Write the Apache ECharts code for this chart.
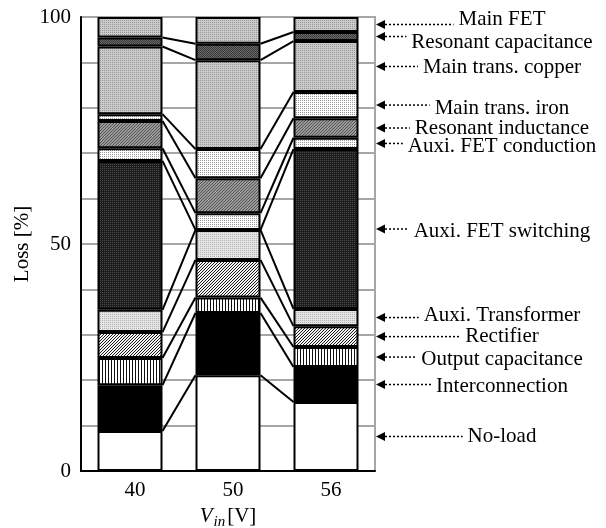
<!DOCTYPE html>
<html><head><meta charset="utf-8">
<script src="https://cdn.jsdelivr.net/npm/echarts@6/dist/echarts.min.js"></script>
<style>html,body{margin:0;padding:0;background:#fff}#c{width:606px;height:528px}</style>
</head><body><div id="c"></div>
<script>
// ---- data ----
const categories = ['40', '50', '56'];
const seriesNames = ['No-load', 'Interconnection', 'Output capacitance', 'Rectifier', 'Auxi. Transformer',
  'Auxi. FET switching', 'Auxi. FET conduction', 'Resonant inductance', 'Main trans. iron',
  'Main trans. copper', 'Resonant capacitance', 'Main FET'];
const noLoad = [8.8, 21.1, 15.2];
const interconnection = [10.1, 13.7, 7.7];
const outputCapacitance = [6.0, 3.4, 4.4];
const rectifier = [5.7, 8.3, 4.6];
const auxiTransformer = [4.9, 6.6, 3.8];
const auxiFetSwitching = [32.8, 0, 35.2];
const auxiFetConduction = [2.8, 3.7, 2.5];
const resonantInductance = [6.0, 7.7, 4.3];
const mainTransIron = [1.5, 6.4, 5.8];
const mainTransCopper = [14.9, 19.6, 11.2];
const resonantCapacitance = [2.0, 3.6, 2.0];
const mainFet = [4.5, 5.9, 3.3];
const yTickLabels = [0, 50, 100];

const valueLists = [noLoad, interconnection, outputCapacitance, rectifier, auxiTransformer,
  auxiFetSwitching, auxiFetConduction, resonantInductance, mainTransIron, mainTransCopper,
  resonantCapacitance, mainFet];

// ---- styling ----
const FONT = '"Liberation Serif", "Times New Roman", serif';
const labelShift = [0, 2, 2, 0, -2, 2, 3, 0, 3, 1, 6, -5];
const BAR_W = 65;

function tile(w, h, bg, fg, cells) {
  const c = document.createElement('canvas'); c.width = w; c.height = h;
  const g = c.getContext('2d'); g.fillStyle = bg; g.fillRect(0, 0, w, h);
  g.fillStyle = fg; cells.forEach(([x, y]) => g.fillRect(x, y, 1, 1));
  return { image: c, repeat: 'repeat' };
}
function diag(size, bg, fg, k) {
  const cells = [];
  for (let x = 0; x < size; x++) for (let y = 0; y < size; y++) if ((x + y) % size === k) cells.push([x, y]);
  return tile(size, size, bg, fg, cells);
}
const fills = [
  '#ffffff',
  '#000000',
  tile(3, 1, '#ffffff', '#111111', [[0, 0]]),
  diag(3, '#f4f4f4', '#1a1a1a', 2),
  tile(2, 2, '#e4e4e4', '#b4b4b4', [[0, 0]]),
  tile(2, 2, '#1c1c1c', '#4a4a4a', [[0, 0]]),
  tile(2, 2, '#ffffff', '#999999', [[0, 0]]),
  diag(3, '#9a9a9a', '#555555', 2),
  tile(2, 2, '#ffffff', '#999999', [[0, 0]]),
  tile(2, 2, '#cbcbcb', '#979797', [[0, 0]]),
  tile(2, 2, '#6a6a6a', '#383838', [[0, 0], [1, 1]]),
  tile(2, 2, '#cbcbcb', '#979797', [[0, 0]])
];

const mctx = document.createElement('canvas').getContext('2d');
mctx.font = '21px ' + FONT;

// cumulative tops
const cum = categories.map((_, c) => { let s = 0; return valueLists.map(v => (s += v[c])); });

const barSeries = valueLists.map((vals, i) => ({
  name: seriesNames[i], type: 'bar', stack: 'total', barWidth: BAR_W, data: vals,
  itemStyle: { color: fills[i], borderColor: '#000', borderWidth: 2 },
  emphasis: { disabled: true }, z: 3
}));

const connData = [];
for (let g = 0; g < categories.length - 1; g++)
  for (let k = 0; k < valueLists.length - 1; k++) connData.push([g, cum[g][k], cum[g + 1][k]]);

const last = categories.length - 1;
const annData = valueLists.map((v, k) => [last, cum[last][k] - v[last] / 2, k]);

const chart = echarts.init(document.getElementById('c'), null, { renderer: 'canvas' });
chart.setOption({
  animation: false,
  grid: { left: 81, right: 231, top: 17, bottom: 57, show: true, borderColor: '#a6a6a6', borderWidth: 2,
    containLabel: false, outerBoundsMode: 'none' },
  xAxis: {
    type: 'category', data: categories,
    axisLine: { lineStyle: { color: '#000', width: 2 } },
    axisTick: { show: false },
    axisLabel: { color: '#000', fontSize: 21, fontFamily: FONT, margin: 9, padding: [0, 0, 0, 10] },
    name: '{v|V}{s|in}{u|[V]}', nameLocation: 'middle', nameGap: 32,
    nameTextStyle: {
      rich: {
        v: { fontSize: 21, fontStyle: 'italic', fontFamily: FONT, color: '#000', verticalAlign: 'top' },
        s: { fontSize: 15, fontStyle: 'italic', fontFamily: FONT, color: '#000', padding: [9, 2, 0, 1], verticalAlign: 'top' },
        u: { fontSize: 21, fontFamily: FONT, color: '#000', verticalAlign: 'top' }
      }
    }
  },
  yAxis: {
    type: 'value', min: 0, max: 100, interval: 10,
    axisLine: { show: true, lineStyle: { color: '#000', width: 2 } },
    axisTick: { show: false },
    axisLabel: { color: '#000', fontSize: 21, fontFamily: FONT, margin: 10,
      formatter: v => (yTickLabels.includes(v) ? String(v) : '') },
    splitLine: { lineStyle: { color: '#a6a6a6', width: 2 } },
    name: 'Loss [%]', nameLocation: 'middle', nameGap: 48,
    nameTextStyle: { color: '#000', fontSize: 21, fontFamily: FONT }
  },
  series: [
    ...barSeries,
    {
      type: 'custom', data: connData, encode: { x: 0, y: [1, 2] }, z: 4, silent: true,
      renderItem(params, api) {
        const g = api.value(0);
        const p1 = api.coord([g, api.value(1)]);
        const p2 = api.coord([g + 1, api.value(2)]);
        return { type: 'line', shape: { x1: p1[0] + BAR_W / 2, y1: p1[1], x2: p2[0] - BAR_W / 2, y2: p2[1] },
          style: { stroke: '#000', lineWidth: 2 } };
      }
    },
    {
      type: 'custom', data: annData, encode: { x: 0, y: 1 }, z: 5, silent: true, clip: false,
      renderItem(params, api) {
        const k = api.value(2);
        const y = api.coord([api.value(0), api.value(1)])[1];
        const tipX = params.coordSys.x + params.coordSys.width + 1;
        const tx = tipX + 126;
        const name = seriesNames[k];
        const w = mctx.measureText(name).width;
        return {
          type: 'group', children: [
            { type: 'polygon', shape: { points: [[tipX, y], [tipX + 9, y - 4.5], [tipX + 9, y + 4.5]] }, style: { fill: '#000' } },
            { type: 'line', shape: { x1: tipX + 9, y1: y, x2: tx - w / 2 - 5, y2: y },
              style: { stroke: '#000', lineWidth: 1.5, lineDash: [2, 2] } },
            { type: 'text', style: { text: name, x: tx, y: y + labelShift[k], align: 'center', verticalAlign: 'middle',
              font: '21px ' + FONT, fill: '#000' } }
          ]
        };
      }
    }
  ]
});
</script></body></html>
